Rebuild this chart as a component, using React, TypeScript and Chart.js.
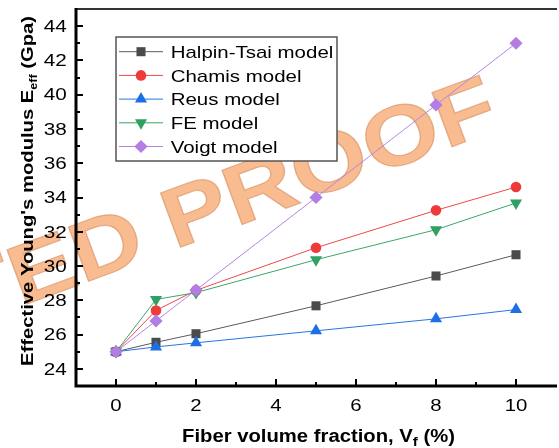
import React, { useEffect, useRef } from "react";
import { Chart, registerables } from "chart.js";
Chart.register(...registerables);

// ---- data ----
const vf = [0, 1, 2, 5, 8, 10];
const halpinTsai = [25, 25.55, 26.05, 27.68, 29.42, 30.66];
const chamis = [25, 27.41, 28.58, 31.07, 33.25, 34.61];
const reus = [25, 25.28, 25.52, 26.22, 26.92, 27.46];
const feModel = [25, 28.05, 28.45, 30.37, 32.12, 33.68];
const voigt = [25, 26.8, 28.6, 34.0, 39.4, 43.0];
const seriesNames = ["Halpin-Tsai model", "Chamis model", "Reus model", "FE model", "Voigt model"];
const xTickValues = [0, 2, 4, 6, 8, 10];
const xMinorValues = [1, 3, 5, 7, 9];
const yTickValues = [24, 26, 28, 30, 32, 34, 36, 38, 40, 42, 44];
const yMinorValues = [25, 27, 29, 31, 33, 35, 37, 39, 41, 43];
const xTitle = ["Fiber volume fraction, V", "f", " (%)"];
const yTitle = ["Effective Young's modulus E", "eff", " (Gpa)"];
const watermark = ["UNCORRECTED PROO", "F"];

const styles = [
  { color: "#4b4b4b", line: "#5a5a5a", shape: "square", r: 6.4 },
  { color: "#ef3a3a", line: "#f04848", shape: "circle", r: 5.3 },
  { color: "#1c6fe4", line: "#2a74e0", shape: "triUp", r: 7 },
  { color: "#2fa163", line: "#3aa66a", shape: "triDown", r: 7 },
  { color: "#b27ee4", line: "#b585e4", shape: "diamond", r: 6.6 },
];
const seriesData = [halpinTsai, chamis, reus, feModel, voigt];

function drawMarker(ctx: CanvasRenderingContext2D, shape: string, x: number, y: number, r: number, color: string) {
  ctx.save();
  ctx.fillStyle = color;
  ctx.beginPath();
  if (shape === "square") {
    const s = r * Math.SQRT1_2;
    ctx.rect(x - s, y - s, 2 * s, 2 * s);
  } else if (shape === "circle") {
    ctx.arc(x, y, r, 0, Math.PI * 2);
  } else if (shape === "triUp") {
    ctx.moveTo(x, y - r);
    ctx.lineTo(x + r * 0.866, y + r * 0.5);
    ctx.lineTo(x - r * 0.866, y + r * 0.5);
    ctx.closePath();
  } else if (shape === "triDown") {
    ctx.moveTo(x, y + r);
    ctx.lineTo(x + r * 0.866, y - r * 0.5);
    ctx.lineTo(x - r * 0.866, y - r * 0.5);
    ctx.closePath();
  } else {
    ctx.moveTo(x, y - r);
    ctx.lineTo(x + r, y);
    ctx.lineTo(x, y + r);
    ctx.lineTo(x - r, y);
    ctx.closePath();
  }
  ctx.fill();
  ctx.restore();
}

// draw rich text (main, subscript, rest) centred at origin, stretched to target width
function drawRich(ctx: CanvasRenderingContext2D, parts: string[], size: number, subSize: number, subDrop: number, targetW: number) {
  const mainFont = `bold ${size}px "Liberation Sans", Arial, sans-serif`;
  const subFont = `bold ${subSize}px "Liberation Sans", Arial, sans-serif`;
  ctx.font = mainFont;
  const w0 = ctx.measureText(parts[0]).width;
  const w2 = ctx.measureText(parts[2]).width;
  ctx.font = subFont;
  const w1 = ctx.measureText(parts[1]).width;
  const total = w0 + w1 + w2;
  const sx = targetW / total;
  ctx.scale(sx, 1);
  ctx.textAlign = "left";
  ctx.textBaseline = "alphabetic";
  ctx.fillStyle = "#000";
  let x = -total / 2;
  ctx.font = mainFont;
  ctx.fillText(parts[0], x, 0);
  x += w0;
  ctx.font = subFont;
  ctx.fillText(parts[1], x, subDrop);
  x += w1;
  ctx.font = mainFont;
  ctx.fillText(parts[2], x, 0);
}

const decorPlugin = {
  id: "decor",
  beforeDraw(chart: any) {
    const ctx: CanvasRenderingContext2D = chart.ctx;
    ctx.save();
    ctx.translate(446, 149);
    ctx.rotate((-20.3 * Math.PI) / 180);
    ctx.scale(1.17, 1);
    ctx.font = 'bold 84px "Liberation Sans", Arial, sans-serif';
    ctx.textBaseline = "alphabetic";
    ctx.fillStyle = "#f9bc90";
    ctx.strokeStyle = "rgba(220,150,105,0.7)";
    ctx.lineWidth = 1.2;
    ctx.textAlign = "left";
    ctx.fillText(watermark[1], 0, 0);
    ctx.strokeText(watermark[1], 0, 0);
    ctx.textAlign = "right";
    ctx.fillText(watermark[0], 0, 0);
    ctx.strokeText(watermark[0], 0, 0);
    ctx.restore();
  },
  afterDraw(chart: any) {
    const ctx: CanvasRenderingContext2D = chart.ctx;
    const { left, right, top, bottom } = chart.chartArea;
    const xs = chart.scales.x;
    const ys = chart.scales.y;
    ctx.save();
    // frame
    ctx.strokeStyle = "#333";
    ctx.lineWidth = 2;
    ctx.beginPath();
    ctx.moveTo(left, top);
    ctx.lineTo(right + 5, top);
    ctx.stroke();
    ctx.strokeStyle = "#000";
    ctx.lineWidth = 3;
    ctx.beginPath();
    ctx.moveTo(left, top - 1);
    ctx.lineTo(left, bottom + 1.5);
    ctx.moveTo(left - 1.5, bottom);
    ctx.lineTo(right + 5, bottom);
    ctx.stroke();
    // ticks (inward)
    ctx.lineWidth = 2;
    ctx.beginPath();
    for (const v of xTickValues) {
      const px = Math.round(xs.getPixelForValue(v));
      ctx.moveTo(px, bottom);
      ctx.lineTo(px, bottom - 7);
    }
    for (const v of xMinorValues) {
      const px = Math.round(xs.getPixelForValue(v));
      ctx.moveTo(px, bottom);
      ctx.lineTo(px, bottom - 4);
    }
    for (const v of yTickValues) {
      const py = Math.round(ys.getPixelForValue(v));
      ctx.moveTo(left, py);
      ctx.lineTo(left + 7, py);
    }
    for (const v of yMinorValues) {
      const py = Math.round(ys.getPixelForValue(v));
      ctx.moveTo(left, py);
      ctx.lineTo(left + 4, py);
    }
    ctx.stroke();
    // tick labels
    ctx.fillStyle = "#000";
    ctx.font = '16px "Liberation Sans", Arial, sans-serif';
    ctx.textBaseline = "alphabetic";
    const ySx = 23 / ctx.measureText("44").width;
    for (const v of yTickValues) {
      const py = ys.getPixelForValue(v);
      ctx.save();
      ctx.translate(66.7, py + 5.8);
      ctx.scale(ySx, 1);
      ctx.textAlign = "right";
      ctx.fillText(String(v), 0, 0);
      ctx.restore();
    }
    const xSx = 22.7 / ctx.measureText("10").width;
    for (const v of xTickValues) {
      const px = xs.getPixelForValue(v);
      ctx.save();
      ctx.translate(px, 410.8);
      ctx.scale(xSx, 1);
      ctx.textAlign = "center";
      ctx.fillText(String(v), 0, 0);
      ctx.restore();
    }
    // axis titles
    ctx.save();
    ctx.translate(318.5, 441.7);
    drawRich(ctx, xTitle, 17.5, 13, 4.5, 273);
    ctx.restore();
    ctx.save();
    ctx.translate(32.5, 191);
    ctx.rotate(-Math.PI / 2);
    drawRich(ctx, yTitle, 17, 10.5, 4, 350);
    ctx.restore();

    // legend
    const lx0 = 116, ly0 = 37, lx1 = 337, ly1 = 161;
    ctx.fillStyle = "#fff";
    ctx.fillRect(lx0, ly0, lx1 - lx0, ly1 - ly0);
    ctx.strokeStyle = "#555";
    ctx.lineWidth = 1.5;
    ctx.strokeRect(lx0, ly0, lx1 - lx0, ly1 - ly0);
    ctx.font = '17px "Liberation Sans", Arial, sans-serif';
    const lSx = 162.6 / ctx.measureText(seriesNames[0]).width;
    seriesNames.forEach((name, i) => {
      const y = 51.7 + i * 23.7;
      const st = styles[i];
      ctx.strokeStyle = st.line;
      ctx.lineWidth = 1;
      ctx.beginPath();
      ctx.moveTo(119, y);
      ctx.lineTo(163, y);
      ctx.stroke();
      drawMarker(ctx, st.shape, 141, y, st.r, st.color);
      ctx.save();
      ctx.translate(170.7, y + 6.2);
      ctx.scale(lSx, 1);
      ctx.fillStyle = "#000";
      ctx.textAlign = "left";
      ctx.textBaseline = "alphabetic";
      ctx.font = '17px "Liberation Sans", Arial, sans-serif';
      ctx.fillText(name, 0, 0);
      ctx.restore();
    });
    ctx.restore();
  },
};

const pointStyleMap: Record<string, any> = {
  square: "rect",
  circle: "circle",
  triUp: "triangle",
  triDown: "triangle",
  diamond: "rectRot",
};

export default function App() {
  const ref = useRef<HTMLCanvasElement | null>(null);
  useEffect(() => {
    if (!ref.current) return;
    const datasets = seriesNames.map((name, i) => {
      const st = styles[i];
      return {
        label: name,
        data: vf.map((x, j) => ({ x, y: seriesData[i][j] })),
        borderColor: st.line,
        backgroundColor: st.color,
        borderWidth: 1,
        pointStyle: pointStyleMap[st.shape],
        pointRotation: st.shape === "triDown" ? 180 : 0,
        pointRadius: st.r,
        pointBorderWidth: 0,
        pointBackgroundColor: st.color,
        pointBorderColor: st.color,
        order: 5 - i,
        tension: 0,
        clip: false as any,
      };
    });
    const chart = new Chart(ref.current, {
      type: "line",
      data: { datasets },
      options: {
        animation: false,
        responsive: false,
        maintainAspectRatio: false,
        layout: { padding: { top: 9, left: 0, right: 0, bottom: 0 } },
        plugins: { legend: { display: false }, tooltip: { enabled: false } },
        scales: {
          x: {
            type: "linear",
            min: -1,
            max: 10.9,
            grid: { display: false, drawTicks: false },
            border: { display: false },
            ticks: { display: false },
            afterFit: (s: any) => {
              s.height = 62;
            },
          },
          y: {
            type: "linear",
            min: 23,
            max: 45,
            grid: { display: false, drawTicks: false },
            border: { display: false },
            ticks: { display: false },
            afterFit: (s: any) => {
              s.width = 76;
            },
          },
        },
      },
      plugins: [decorPlugin],
    });
    return () => chart.destroy();
  }, []);
  return (
    <div style={{ position: "absolute", left: 0, top: 0, width: 559, height: 448 }}>
      <canvas ref={ref} width={559} height={448} />
    </div>
  );
}
